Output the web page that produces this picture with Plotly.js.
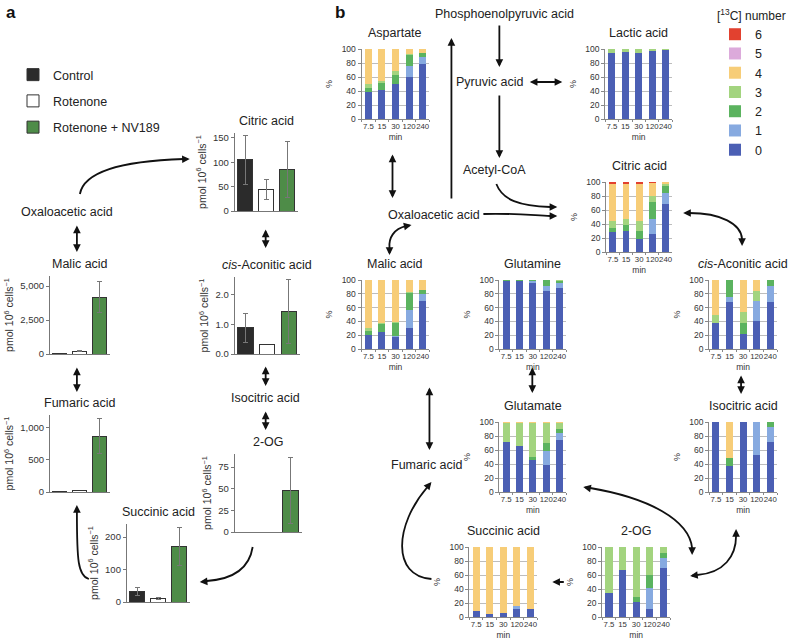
<!DOCTYPE html>
<html><head><meta charset="utf-8">
<script src="https://cdn.plot.ly/plotly-3.0.1.min.js"></script>
<style>html,body{margin:0;padding:0;background:#fff}#chart{width:788px;height:642px}</style>
</head><body><div id="chart"></div>
<script>
// ================= DATA =================
// Panel a: metabolite amounts (pmol 10^6 cells^-1), mean and error
const treatments = ['Control', 'Rotenone', 'Rotenone + NV189'];
const citricA = [105, 44, 85];
const citricAErr = [50, 21, 58];
const cisAconiticA = [0.88, 0.32, 1.42];
const cisAconiticAErr = [0.5, 0, 1.08];
const malicA = [20, 200, 4200];
const malicAErr = [0, 30, 1150];
const fumaricA = [3, 30, 870];
const fumaricAErr = [0, 0, 270];
const succinicA = [32, 11, 170];
const succinicAErr = [12, 3, 58];
const ogA = [0, 0, 48];
const ogAErr = [0, 0, 38];

// Panel b: [13C] isotopologue distribution (%), rows = 13C number 0..6, columns = time points
const times = ['7.5', '15', '30', '120', '240'];
const isotopologues = ['0', '1', '2', '3', '4', '5', '6'];
const aspartate = [[39,42,50,60,79],[0,0,0,16,10],[6,10,13,15,6],[5,3,5,2,0],[50,45,32,7,5],[0,0,0,0,0],[0,0,0,0,0]];
const lactic = [[94,96,94,97,99],[0,0,0,0,0],[0,0,0,0,0],[6,4,6,3,1],[0,0,0,0,0],[0,0,0,0,0],[0,0,0,0,0]];
const citricB = [[29,30,18,26,68],[0,0,0,21,17],[6,9,12,24,9],[10,8,15,9,3],[52,50,52,19,3],[0,0,0,0,0],[3,3,3,1,0]];
const malicB = [[20,24,17,31,69],[0,0,2,26,10],[6,12,18,24,7],[4,2,2,1,0],[70,62,61,18,14],[0,0,0,0,0],[0,0,0,0,0]];
const glutamine = [[98,98,95,84,89],[1,1,3,8,7],[1,1,2,8,3],[0,0,0,0,1],[0,0,0,0,0],[0,0,0,0,0],[0,0,0,0,0]];
const cisAconiticB = [[38,68,22,41,68],[0,8,0,28,24],[0,24,16,0,8],[12,0,15,15,0],[50,0,47,16,0],[0,0,0,0,0],[0,0,0,0,0]];
const glutamate = [[72,66,46,38,75],[0,0,0,20,10],[0,0,4,12,5],[26,32,48,28,8],[2,2,2,2,2],[0,0,0,0,0],[0,0,0,0,0]];
const isocitricB = [[100,37,100,53,72],[0,0,0,47,21],[0,11,0,0,7],[0,0,0,0,0],[0,52,0,0,0],[0,0,0,0,0],[0,0,0,0,0]];
const succinicB = [[9,5,6,12,11],[0,0,0,4,0],[0,0,0,0,0],[0,0,0,0,0],[91,95,94,84,89],[0,0,0,0,0],[0,0,0,0,0]];
const ogB = [[34,67,22,12,70],[0,0,0,30,14],[0,0,6,18,7],[66,33,72,40,9],[0,0,0,0,0],[0,0,0,0,0],[0,0,0,0,0]];

// ================= STYLE / LAYOUT =================
const W = 788, H = 642;
const px = x => x / W, py = y => 1 - y / H;
const FONT = 'Liberation Sans, Arial, Helvetica, sans-serif';
const treatColors = ['#2b2b2b', '#ffffff', '#4e8c48'];
const isoColors = ['#4b5fb4', '#87aae0', '#5bb35f', '#a3d47f', '#f7cd78', '#dcaadb', '#e2412f'];
const yUnit = 'pmol 10<sup>6</sup> cells<sup>−1</sup>';

const aDefs = [
  {t: 'Citric acid', v: citricA, e: citricAErr, x: [235, 298], y: [133, 211], r: [0, 160], dt: 50, f: ''},
  {t: '<i>cis</i>-Aconitic acid', v: cisAconiticA, e: cisAconiticAErr, x: [235, 300], y: [277, 354], r: [0, 2.6], dt: 1, f: '.1f'},
  {t: 'Malic acid', v: malicA, e: malicAErr, x: [50, 110], y: [276, 354], r: [0, 5750], dt: 2500, f: ',d'},
  {t: 'Fumaric acid', v: fumaricA, e: fumaricAErr, x: [50, 110], y: [415, 492], r: [0, 1200], dt: 500, f: ',d'},
  {t: 'Succinic acid', v: succinicA, e: succinicAErr, x: [127, 190], y: [524, 602], r: [0, 240], dt: 100, f: ''},
  {t: '2-OG', v: ogA, e: ogAErr, x: [235, 302], y: [454, 532], r: [0, 90], dt: 25, f: ''}
];
const bDefs = [
  {t: 'Aspartate', d: aspartate, x: [362, 430], y: [49, 119]},
  {t: 'Lactic acid', d: lactic, x: [606, 673], y: [49, 119]},
  {t: 'Citric acid', d: citricB, x: [607, 673], y: [182, 252]},
  {t: 'Malic acid', d: malicB, x: [362, 430], y: [280, 349]},
  {t: 'Glutamine', d: glutamine, x: [500, 567], y: [280, 349]},
  {t: '<i>cis</i>-Aconitic acid', d: cisAconiticB, x: [710, 778], y: [280, 349]},
  {t: 'Glutamate', d: glutamate, x: [500, 567], y: [422, 492]},
  {t: 'Isocitric acid', d: isocitricB, x: [710, 778], y: [422, 492]},
  {t: 'Succinic acid', d: succinicB, x: [470, 538], y: [547, 617]},
  {t: '2-OG', d: ogB, x: [603, 671], y: [547, 617]}
];

const traces = [];
const layout = {
  width: W, height: H,
  margin: {l: 0, r: 0, t: 0, b: 0},
  paper_bgcolor: '#fff', plot_bgcolor: 'rgba(0,0,0,0)',
  font: {family: FONT, color: '#222', size: 12},
  barmode: 'stack',
  showlegend: true,
  legend: {x: px(13), xanchor: 'left', y: py(60), yanchor: 'top', bgcolor: 'rgba(0,0,0,0)',
           font: {size: 12.5, color: '#222'}, traceorder: 'grouped', tracegroupgap: 7, itemwidth: 30},
  legend2: {x: px(716), xanchor: 'left', y: py(4), yanchor: 'top', bgcolor: 'rgba(0,0,0,0)',
            title: {text: '[<sup>13</sup>C] number', font: {size: 12, color: '#222'}},
            font: {size: 12.5, color: '#222'}, traceorder: 'reversed', itemwidth: 30},
  annotations: [], shapes: []
};

const ax = k => (k === 1 ? '' : String(k));
let k = 0;

aDefs.forEach((d, i) => {
  k++;
  const id = ax(k);
  treatments.forEach((tr, j) => {
    traces.push({
      type: 'bar', x: [tr], y: [d.v[j]], width: 0.7,
      xaxis: 'x' + id, yaxis: 'y' + id,
      name: tr, legend: 'legend', legendgroup: tr, showlegend: i === 0,
      marker: {color: treatColors[j], line: {color: '#333', width: 1}},
      error_y: {type: 'data', array: [d.e[j]], visible: d.e[j] > 0, color: '#777', thickness: 1, width: 2.5}
    });
  });
  layout['xaxis' + id] = {domain: [px(d.x[0]), px(d.x[1])], anchor: 'y' + id, type: 'category',
    categoryarray: treatments, range: [-0.5, 2.5], showticklabels: false, ticks: '',
    showline: true, linecolor: '#777', linewidth: 1, showgrid: false, zeroline: false, fixedrange: true};
  layout['yaxis' + id] = {domain: [py(d.y[1]), py(d.y[0])], anchor: 'x' + id, range: d.r, dtick: d.dt,
    tickformat: d.f, showline: true, linecolor: '#777', linewidth: 1, ticks: 'outside', ticklen: 3,
    tickcolor: '#777', tickfont: {size: 9.5, color: '#333'}, showgrid: false, zeroline: false,
    title: {text: yUnit, font: {size: 10.5, color: '#333'}, standoff: 4}, fixedrange: true};
  layout.annotations.push({text: d.t, xref: 'x' + id + ' domain', yref: 'y' + id + ' domain', x: 0.5, y: 1,
    yanchor: 'middle', yshift: 12, showarrow: false, font: {size: 12.5, color: '#222'}});
});

bDefs.forEach((d, i) => {
  k++;
  const id = ax(k);
  isotopologues.forEach((lab, l) => {
    traces.push({
      type: 'bar', x: times, y: d.d[l], width: 0.52,
      xaxis: 'x' + id, yaxis: 'y' + id,
      name: lab, legend: 'legend2', legendgroup: 'iso' + lab, showlegend: i === 0,
      marker: {color: isoColors[l], line: {width: 0}}
    });
  });
  layout['xaxis' + id] = {domain: [px(d.x[0]), px(d.x[1])], anchor: 'y' + id, type: 'category',
    categoryarray: times, range: [-0.5, 4.5], tickangle: 0, ticks: 'outside', tickson: 'boundaries',
    ticklen: 2, tickcolor: '#888', tickfont: {size: 7.8, color: '#333'}, showline: true, linecolor: '#888',
    showgrid: false, zeroline: false, title: {text: 'min', font: {size: 8.5, color: '#333'}, standoff: 3},
    fixedrange: true};
  layout['yaxis' + id] = {domain: [py(d.y[1]), py(d.y[0])], anchor: 'x' + id, range: [0, 100], dtick: 20,
    showline: true, linecolor: '#888', ticks: 'outside', ticklen: 3, tickcolor: '#888',
    tickfont: {size: 8.5, color: '#333'}, showgrid: true, gridcolor: '#bdbdbd', gridwidth: 1, zeroline: false,
    title: {text: '%', font: {size: 9, color: '#333'}, standoff: 7}, fixedrange: true};
  layout.annotations.push({text: d.t, xref: 'x' + id + ' domain', yref: 'y' + id + ' domain', x: 0.5, y: 1,
    yanchor: 'middle', yshift: 16, showarrow: false, font: {size: 12.5, color: '#222'}});
});

// ---------- pathway labels ----------
function label(t, x, y, opt) {
  layout.annotations.push(Object.assign({text: t, xref: 'paper', yref: 'paper', x: px(x), y: py(y),
    xanchor: 'center', yanchor: 'middle', showarrow: false, font: {size: 12.5, color: '#222'}}, opt || {}));
}
label('<b>a</b>', 4, 12, {xanchor: 'left', font: {size: 17, color: '#111'}});
label('<b>b</b>', 333, 12, {xanchor: 'left', font: {size: 17, color: '#111'}});
label('Oxaloacetic acid', 67, 212);
label('Isocitric acid', 266, 398);
label('Phosphoenolpyruvic acid', 505, 14);
label('Pyruvic acid', 490, 82);
label('Acetyl-CoA', 495, 170);
label('Oxaloacetic acid', 435, 215);
label('Fumaric acid', 428, 465);

// ---------- arrows ----------
function arr(tip, tail, both) {
  layout.annotations.push({xref: 'paper', yref: 'paper', x: px(tip[0]), y: py(tip[1]),
    axref: 'pixel', ayref: 'pixel', ax: tail[0] - tip[0], ay: tail[1] - tip[1], text: '',
    showarrow: true, arrowhead: 2, arrowsize: 0.85, arrowwidth: 1.8, arrowcolor: '#111',
    arrowside: both ? 'end+start' : 'end', startarrowhead: 2, startarrowsize: 0.85, standoff: 0, startstandoff: 0});
}
function curve(segs) {
  const p = segs.map(s => {
    let out = s[0];
    for (let i = 1; i < s.length; i += 2) out += ' ' + px(s[i]).toFixed(5) + ',' + py(s[i + 1]).toFixed(5);
    return out;
  }).join(' ');
  layout.shapes.push({type: 'path', xref: 'paper', yref: 'paper', path: p, line: {color: '#111', width: 1.8}});
}
// panel a
curve([['M', 80, 194], ['C', 84, 172, 120, 161, 184, 159]]); arr([190, 159], [181, 159.3]);
arr([77, 252], [77, 224], true);
arr([77, 392], [77, 366], true);
curve([['M', 89, 579], ['C', 78, 576, 77, 560, 77, 512]]); arr([77, 505], [77, 514]);
curve([['M', 253, 547], ['C', 250, 566, 236, 579, 207, 581]]); arr([200, 582], [208, 581.3]);
arr([266, 248], [266, 228], true);
arr([266, 386], [266, 365], true);
arr([266, 430], [266, 410], true);
// panel b
arr([500, 67], [500, 24]);
arr([500, 158], [500, 94]);
arr([563, 82], [529, 82], true);
arr([452, 38], [452, 200]);
arr([393, 198], [393, 153], true);
arr([533, 393], [533, 366], true);
arr([742, 394], [742, 374], true);
arr([430, 450], [430, 386], true);
arr([553, 582], [566, 582]);
curve([['M', 497, 184], ['C', 503, 200, 520, 206, 551, 207]]); arr([558, 207], [549, 207]);
curve([['M', 484, 214], ['C', 510, 213, 530, 215, 551, 216]]); arr([558, 216], [549, 216]);
curve([['M', 407, 226], ['C', 394, 229, 389, 238, 390, 248]]); arr([412, 225], [405, 226.5]); arr([390, 255], [390, 247]);
curve([['M', 690, 213], ['C', 722, 213, 742, 224, 743, 239]]); arr([684, 213], [692, 213]); arr([743, 246], [743, 238]);
curve([['M', 432, 579], ['C', 392, 576, 395, 525, 428, 487]]); arr([432, 482], [427, 488]);
curve([['M', 591, 488], ['C', 650, 498, 690, 520, 693, 548]]); arr([584, 487], [592, 488.5]); arr([693, 555], [693, 547]);
curve([['M', 698, 575], ['C', 725, 573, 737, 556, 737, 536]]); arr([691, 576], [699, 575]); arr([737, 529], [737, 537]);

Plotly.newPlot('chart', traces, layout, {displayModeBar: false, staticPlot: true});
</script>
</body></html>
